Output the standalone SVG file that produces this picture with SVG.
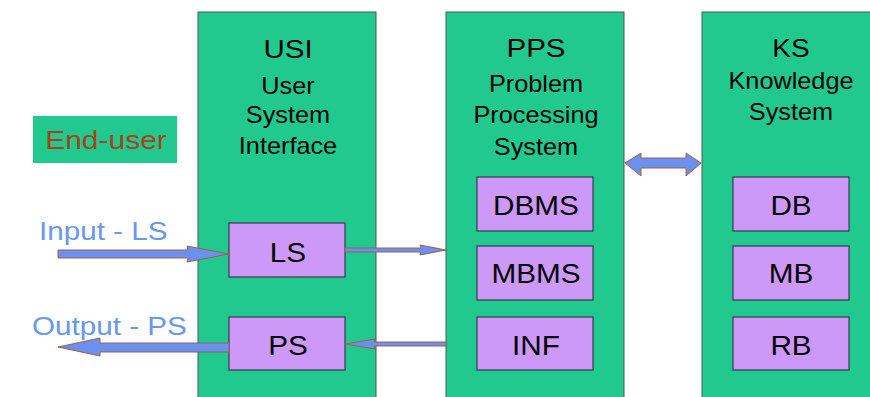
<svg xmlns="http://www.w3.org/2000/svg" width="870" height="397" viewBox="0 0 870 397">
<style>
.col{fill:#21c98f;stroke:#4a5a55;stroke-width:1}
.sub{fill:#cc99f8;stroke:#3a3a4a;stroke-width:1.2}
.t{font-family:"Liberation Sans",Arial,sans-serif;fill:#000;text-anchor:middle}
.big{font-size:25px}
.mid{font-size:23px}
.box{font-size:27px}
.blue{font-family:"Liberation Sans",Arial,sans-serif;fill:#6a98ea;font-size:26px}
.arr{fill:#6a90f0;stroke:#a0604a;stroke-width:1}
</style>
<rect width="870" height="397" fill="#fff"/>
<g id="enduser">
<rect x="33" y="116" width="144" height="47" fill="#21c98f"/>
<text transform="translate(106,149) scale(1.2,1)" font-family="'Liberation Sans',Arial,sans-serif" font-size="25" fill="#a8421e" text-anchor="middle">End-user</text>
</g>
<g id="usi">
<rect class="col" x="198" y="12" width="178" height="400"/>
<text class="t big" transform="translate(288,58) scale(1.18,1)">USI</text>
<text class="t mid" transform="translate(288,94) scale(1.1,1)">User</text>
<text class="t mid" transform="translate(288,123) scale(1.1,1)">System</text>
<text class="t mid" transform="translate(288,154) scale(1.1,1)">Interface</text>
</g>
<g id="ls"><rect class="sub" x="229" y="223" width="116" height="54"/><text class="t box" transform="translate(288,262) scale(1.1,1)">LS</text></g>
<g id="ps"><rect class="sub" x="229" y="317" width="116" height="53"/><text class="t box" transform="translate(288,355) scale(1.1,1)">PS</text></g>
<g id="pps">
<rect class="col" x="446" y="12" width="178" height="400"/>
<text class="t big" transform="translate(536,57) scale(1.18,1)">PPS</text>
<text class="t mid" transform="translate(536,92) scale(1.1,1)">Problem</text>
<text class="t mid" transform="translate(536,123) scale(1.1,1)">Processing</text>
<text class="t mid" transform="translate(536,155) scale(1.1,1)">System</text>
</g>
<g id="dbms"><rect class="sub" x="477" y="177" width="116" height="54"/><text class="t box" transform="translate(536,215) scale(1.1,1)">DBMS</text></g>
<g id="mbms"><rect class="sub" x="477" y="246" width="116" height="54"/><text class="t box" transform="translate(536,283) scale(1.1,1)">MBMS</text></g>
<g id="inf"><rect class="sub" x="477" y="317" width="116" height="53"/><text class="t box" transform="translate(536,355) scale(1.1,1)">INF</text></g>
<g id="ks">
<rect class="col" x="702" y="12" width="178" height="400"/>
<text class="t big" transform="translate(791,57) scale(1.12,1)">KS</text>
<text class="t mid" transform="translate(791,89) scale(1.1,1)">Knowledge</text>
<text class="t mid" transform="translate(791,120) scale(1.1,1)">System</text>
</g>
<g id="db"><rect class="sub" x="733" y="177" width="116" height="54"/><text class="t box" transform="translate(791,215) scale(1.1,1)">DB</text></g>
<g id="mb"><rect class="sub" x="733" y="246" width="116" height="54"/><text class="t box" transform="translate(791,283) scale(1.1,1)">MB</text></g>
<g id="rb"><rect class="sub" x="733" y="317" width="116" height="53"/><text class="t box" transform="translate(791,355) scale(1.1,1)">RB</text></g>
<g id="labels">
<text class="blue" transform="translate(39,240) scale(1.14,1)">Input - LS</text>
<text class="blue" transform="translate(32,335) scale(1.14,1)">Output - PS</text>
</g>
<g id="connectors">
<path class="arr" d="M58,250 L188,250 L187,246 L229,254 L187,262 L188,258 L58,258 Z"/>
<path class="arr" d="M345,248 L421,248 L420,245 L446,250 L420,255 L421,252 L345,252 Z"/>
<path class="arr" d="M229,343 L100,343 L100,338 L58,347 L100,356 L100,352 L229,352 Z"/>
<path class="arr" d="M446,342 L374,342 L375,339 L345,344 L375,349 L374,346 L446,346 Z"/>
<path class="arr" d="M625,163 L641,153 L641,158 L686,158 L686,153 L701,163 L686,176 L686,168 L641,168 L641,176 Z"/>
</g>
</svg>
